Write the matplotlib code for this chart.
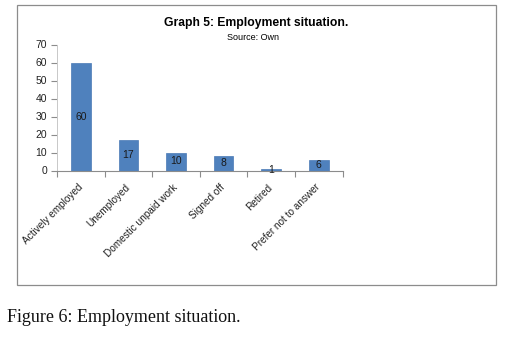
import matplotlib
matplotlib.use("Agg")
import matplotlib.pyplot as plt
from matplotlib.patches import Rectangle

categories = ["Actively employed", "Unemployed", "Domestic unpaid work",
              "Signed off", "Retired", "Prefer not to answer"]
values = [60, 17, 10, 8, 1, 6]
yticks = [0, 10, 20, 30, 40, 50, 60, 70]

fig = plt.figure(figsize=(5.06, 3.43), dpi=100)
fig.patch.set_facecolor("white")

# outer chart frame
fig.add_artist(Rectangle((17/506, 1-285/343), (496-17)/506, (285-5)/343,
                         transform=fig.transFigure, fill=False,
                         edgecolor="#8c8c8c", linewidth=0.9))

ax = fig.add_axes([57/506, 1-170.5/343, (342.6-57)/506, (170.5-44.5)/343])
x = list(range(len(categories)))
bars = ax.bar(x, values, width=0.41, color="#4F81BD", edgecolor="#4a7ab5", linewidth=0.5)
for xi, v in zip(x, values):
    ax.text(xi, v/2, str(v), ha="center", va="center", fontsize=7.5,
            family="Liberation Sans", color="#1a1a1a")

ax.set_xlim(-0.5, len(categories)-0.5)
ax.set_ylim(0, 70)
ax.set_yticks(yticks)
ax.set_yticklabels([str(t) for t in yticks], fontsize=7.5, family="Liberation Sans", color="#222222")
ax.set_xticks(x)
ax.set_xticklabels(categories, rotation=45, ha="right", va="center", rotation_mode="anchor",
                   fontsize=7.2, family="Liberation Sans", color="#222222")
ax.tick_params(axis="x", length=0, pad=11)
ax.set_xticks([i-0.5 for i in range(len(categories)+1)], minor=True)
ax.tick_params(axis="x", which="minor", length=4, color="#8c8c8c", width=0.8)
ax.tick_params(axis="y", length=4, color="#8c8c8c", width=0.8, pad=3)
for s in ["top", "right"]:
    ax.spines[s].set_visible(False)
ax.spines["left"].set_color("#c8c8c8")
ax.spines["left"].set_linewidth(0.7)
ax.spines["bottom"].set_color("#8c8c8c")
ax.spines["bottom"].set_linewidth(0.8)

fig.text(256.5/506, 1-23/343, "Graph 5: Employment situation.", ha="center", va="center",
         fontsize=8.7, fontweight="bold", family="Liberation Sans")
fig.text(253/506, 1-37.5/343, "Source: Own", ha="center", va="center",
         fontsize=6.5, family="Liberation Sans")

fig.text(7/506, 1-317/343, "Figure 6: Employment situation.", ha="left", va="center",
         fontsize=13, family="Liberation Serif", color="#111111")

fig.savefig("out.png", dpi=100)
